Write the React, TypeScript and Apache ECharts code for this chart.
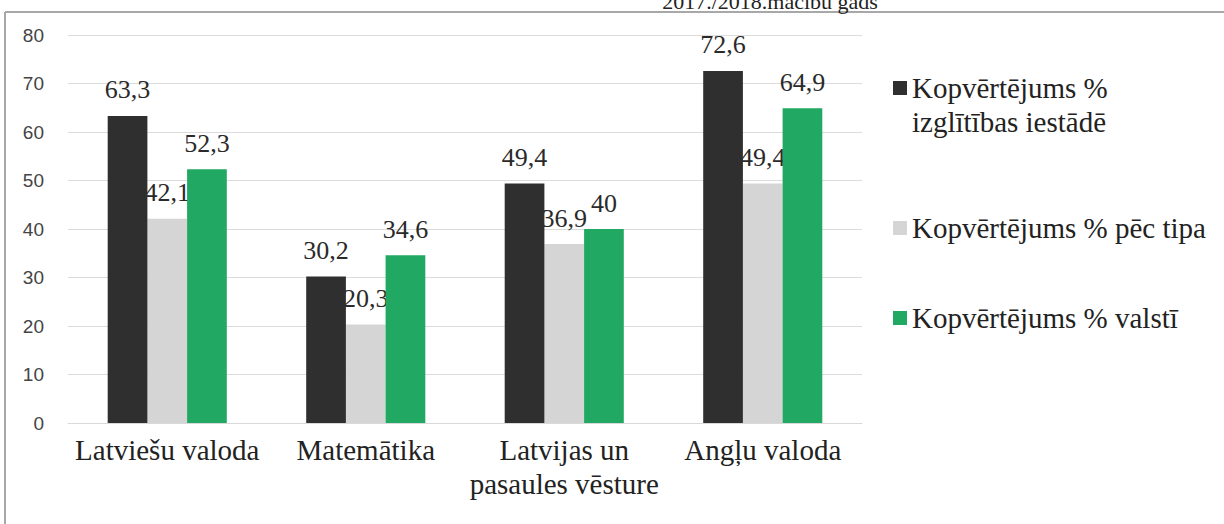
import React, { useEffect, useRef } from "react";
import * as echarts from "echarts";

const categories = [
  "Latviešu valoda",
  "Matemātika",
  "Latvijas un\npasaules vēsture",
  "Angļu valoda",
];
const seriesNames = [
  "Kopvērtējums %\nizglītības iestādē",
  "Kopvērtējums % pēc tipa",
  "Kopvērtējums % valstī",
];
const institution = [63.3, 30.2, 49.4, 72.6];
const byType = [42.1, 20.3, 36.9, 49.4];
const national = [52.3, 34.6, 40, 64.9];
const colors = ["#2f2f2f", "#d5d5d5", "#21a862"];
const titleText = "2017./2018.mācību gads";

const SERIF = "Liberation Serif";

export default function App() {
  const ref = useRef<HTMLDivElement>(null);
  useEffect(() => {
    if (!ref.current) return;
    const chart = echarts.init(ref.current, null, { renderer: "svg" });
    const fmt = (p: any) => String(p.value).replace(".", ",");
    const label = {
      show: true,
      position: "top",
      distance: 13,
      fontFamily: SERIF,
      fontSize: 26,
      color: "#2a2a2a",
      formatter: fmt,
    };
    const legendBase = {
      orient: "vertical",
      left: 893,
      padding: 0,
      itemWidth: 14,
      itemHeight: 14,
      icon: "rect",
      selectedMode: false,
    };
    const legendText = {
      fontFamily: SERIF,
      fontSize: 29,
      lineHeight: 34,
      color: "#222",
    };
    chart.setOption({
      animation: false,
      backgroundColor: "#ffffff",
      textStyle: { fontFamily: SERIF },
      grid: { left: 68, right: 362, top: 35, bottom: 101, containLabel: false },
      legend: [
        {
          ...legendBase,
          top: 37,
          data: [seriesNames[0]],
          formatter: (name: string) => " \n" + name,
          textStyle: legendText,
        },
        { ...legendBase, top: 211, data: [seriesNames[1]], textStyle: legendText },
        { ...legendBase, top: 301, data: [seriesNames[2]], textStyle: legendText },
      ],
      xAxis: {
        type: "category",
        data: categories,
        axisTick: { show: false },
        axisLine: { lineStyle: { color: "#d9d9d9", width: 1 } },
        axisLabel: {
          interval: 0,
          margin: 10,
          fontFamily: SERIF,
          fontSize: 29,
          lineHeight: 34,
          color: "#222",
        },
      },
      yAxis: {
        type: "value",
        min: 0,
        max: 80,
        interval: 10,
        axisLine: { show: false },
        axisTick: { show: false },
        splitLine: { lineStyle: { color: "#dcdcdc", width: 1 } },
        axisLabel: {
          margin: 24,
          fontFamily: "Liberation Sans",
          fontSize: 19,
          color: "#444",
        },
      },
      series: [
        {
          name: seriesNames[0],
          type: "bar",
          data: institution,
          itemStyle: { color: colors[0] },
          barGap: "0%",
          barCategoryGap: "40%",
          z: 3,
          label,
        },
        {
          name: seriesNames[1],
          type: "bar",
          data: byType,
          itemStyle: { color: colors[1] },
          barGap: "0%",
          barCategoryGap: "40%",
          z: 2,
          label,
        },
        {
          name: seriesNames[2],
          type: "bar",
          data: national,
          itemStyle: { color: colors[2] },
          barGap: "0%",
          barCategoryGap: "40%",
          z: 4,
          label,
        },
      ],
      graphic: [
        {
          type: "line",
          shape: { x1: 5, y1: 12, x2: 1224, y2: 12 },
          style: { stroke: "#a8a8a8", lineWidth: 2 },
        },
        {
          type: "line",
          shape: { x1: 5, y1: 12, x2: 5, y2: 524 },
          style: { stroke: "#a8a8a8", lineWidth: 2 },
        },
        {
          type: "text",
          x: 770,
          y: 1,
          style: {
            text: titleText,
            fontFamily: SERIF,
            fontSize: 22,
            textAlign: "center",
            textVerticalAlign: "middle",
            fill: "#222",
          },
        },
      ],
    });
    return () => chart.dispose();
  }, []);
  return (
    <div
      ref={ref}
      style={{ position: "fixed", left: 0, top: 0, width: 1224, height: 524 }}
    />
  );
}
